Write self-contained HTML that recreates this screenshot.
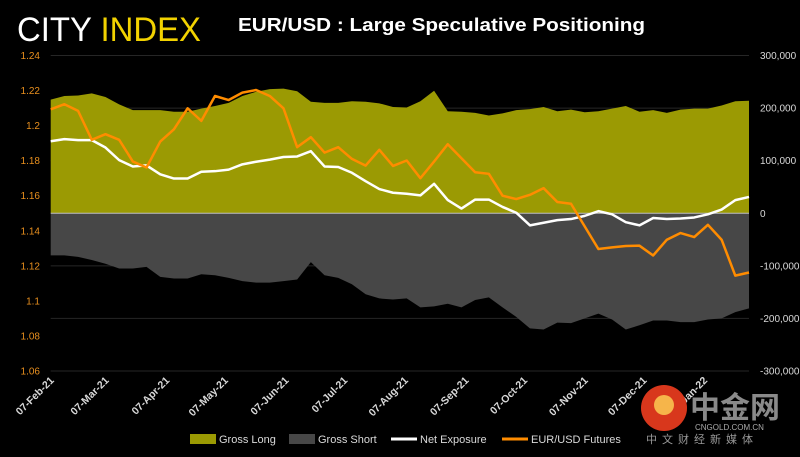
<!DOCTYPE html>
<html><head><meta charset="utf-8">
<style>
body{margin:0;background:#000;width:800px;height:457px;overflow:hidden;font-family:"Liberation Sans","Noto Sans CJK SC",sans-serif;}
svg{display:block}
</style></head>
<body>
<svg id="chart" width="800" height="457" xmlns="http://www.w3.org/2000/svg">
<rect width="800" height="457" fill="#000"/>
<g>
<text x="17" y="41" font-size="34" fill="#fff" font-family="Liberation Sans, sans-serif" textLength="184" lengthAdjust="spacingAndGlyphs">CITY <tspan fill="#f2d200">INDEX</tspan></text>
</g>
<text x="238" y="31" font-size="18" font-weight="bold" fill="#fff" textLength="407" lengthAdjust="spacingAndGlyphs">EUR/USD : Large Speculative Positioning</text>
<g id="grid"></g><g id="areas"></g><g id="lines"></g><g id="axes"></g>
<g font-size="11" fill="#d9d9d9">
<rect x="190" y="434" width="26" height="10" fill="#9b9a03"/>
<text x="219" y="443">Gross Long</text>
<rect x="289" y="434" width="26" height="10" fill="#474747"/>
<text x="318" y="443">Gross Short</text>
<line x1="391" y1="439" x2="417" y2="439" stroke="#fff" stroke-width="3"/>
<text x="420" y="443">Net Exposure</text>
<line x1="502" y1="439" x2="528" y2="439" stroke="#ff8c00" stroke-width="3"/>
<text x="531" y="443">EUR/USD Futures</text>
</g>
<g>
<circle cx="664" cy="408" r="23" fill="#d8371c"/>
<circle cx="664" cy="405" r="10" fill="#f6b54a"/>
<text x="690" y="418" font-size="30" font-weight="bold" fill="#8a8a8a" font-family="Noto Sans CJK SC, sans-serif">中金网</text>
<text x="695" y="430" font-size="8" fill="#aaa">CNGOLD.COM.CN</text>
<text x="646" y="443" font-size="11" fill="#999" letter-spacing="5" font-family="Noto Sans CJK SC, sans-serif">中文财经新媒体</text>
</g>
</svg>
<script>
const longPos=[216,223,224,228,221,207,196,196,196,193,193,199,204,210,223,231,236,237,232,212,210,210,213,212,209,202,201,213,233,194,193,191,186,190,196,198,202,194,197,192,194,199,204,193,196,191,197,199,199,205,213,214];
const shortPos=[-80,-80,-83,-89,-96,-105,-105,-102,-121,-124,-124,-116,-118,-123,-129,-132,-132,-129,-126,-93,-118,-123,-135,-154,-162,-164,-162,-179,-177,-172,-179,-165,-160,-179,-197,-219,-221,-208,-209,-200,-191,-202,-221,-213,-204,-204,-207,-207,-202,-200,-188,-181];
const netPos=[137,141,139,139,125,101,89,91,74,66,66,79,80,83,93,98,102,107,108,118,89,88,77,61,46,39,37,34,56,25,9,26,26,12,1,-23,-18,-13,-11,-5,4,-2,-17,-23,-9,-11,-10,-8,-2,7,25,31];
const eurusd=[1.2093,1.2122,1.2084,1.1919,1.1951,1.1919,1.1795,1.1761,1.1909,1.1979,1.2099,1.2027,1.2169,1.2146,1.2188,1.2203,1.2169,1.2099,1.1877,1.1934,1.1846,1.1877,1.1810,1.1772,1.1862,1.1770,1.1801,1.1700,1.1795,1.1894,1.1814,1.1734,1.1725,1.1600,1.1581,1.1605,1.1643,1.1564,1.1554,1.1425,1.1296,1.1305,1.1313,1.1315,1.1259,1.1349,1.1387,1.1364,1.1434,1.1349,1.1144,1.1162];
const xLabels=["07-Feb-21","07-Mar-21","07-Apr-21","07-May-21","07-Jun-21","07-Jul-21","07-Aug-21","07-Sep-21","07-Oct-21","07-Nov-21","07-Dec-21","07-Jan-22"];
const xLabelDays=[0,28,59,89,120,150,181,212,242,273,303,334];
const leftTicks=[1.06,1.08,1.1,1.12,1.14,1.16,1.18,1.2,1.22,1.24];
const rightTicks=[-300,-200,-100,0,100,200,300];
const NS="http://www.w3.org/2000/svg";
const X0=50.7,X1=749,TOP=55.5,BOT=371;
const n=eurusd.length;
function xDay(d){return X0+(d/7)*(X1-X0)/(n-1);}
function xi(i){return xDay(i*7);}
function yL(p){return BOT-(p-1.06)/(0.18)*(BOT-TOP);}
function yR(v){return BOT-(v+300)/600*(BOT-TOP);}
function mk(tag,attrs,parent){const e=document.createElementNS(NS,tag);for(const k in attrs)e.setAttribute(k,attrs[k]);parent.appendChild(e);return e;}
const grid=document.getElementById('grid'),areas=document.getElementById('areas'),lines=document.getElementById('lines'),axes=document.getElementById('axes');
rightTicks.forEach(v=>{if(v===0)return;const l=mk('line',{x1:X0,x2:X1,y1:yR(v),y2:yR(v),stroke:'#262626','stroke-width':1},grid);

});
let dL='M'+xi(0)+','+yR(0);longPos.forEach((v,i)=>dL+=' L'+xi(i)+','+yR(v));dL+=' L'+xi(n-1)+','+yR(0)+'Z';
const aL=mk('path',{d:dL,fill:'#9b9a03'},areas);


let dS='M'+xi(0)+','+yR(0);shortPos.forEach((v,i)=>dS+=' L'+xi(i)+','+yR(v));dS+=' L'+xi(n-1)+','+yR(0)+'Z';
const aS=mk('path',{d:dS,fill:'#474747'},areas);


const z=mk('line',{x1:X0,x2:X1,y1:yR(0),y2:yR(0),stroke:'#bfbfbf','stroke-width':1},areas);


const pN=mk('polyline',{points:netPos.map((v,i)=>xi(i)+','+yR(v)).join(' '),fill:'none',stroke:'#fff','stroke-width':2.5,'stroke-linejoin':'round'},lines);


const pE=mk('polyline',{points:eurusd.map((v,i)=>xi(i)+','+yL(v)).join(' '),fill:'none',stroke:'#ff8c00','stroke-width':2.5,'stroke-linejoin':'round'},lines);


leftTicks.forEach(p=>{const t=mk('text',{x:40,y:yL(p)+3.5,'font-size':10,fill:'#e88f1e','text-anchor':'end'},axes);t.textContent=String(p);

});
rightTicks.forEach(v=>{const t=mk('text',{x:760,y:yR(v)+3.5,'font-size':10,fill:'#d9d9d9'},axes);t.textContent=v===0?'0':(v<0?'-':'')+Math.abs(v)+',000';

});
xLabels.forEach((s,i)=>{const x=xDay(xLabelDays[i])+4,y=381;const t=mk('text',{x:x,y:y,'font-size':10.5,'font-weight':'bold',fill:'#d9d9d9','text-anchor':'end',transform:'rotate(-45 '+x+' '+y+')'},axes);t.textContent=s;

});
</script>
</body></html>
